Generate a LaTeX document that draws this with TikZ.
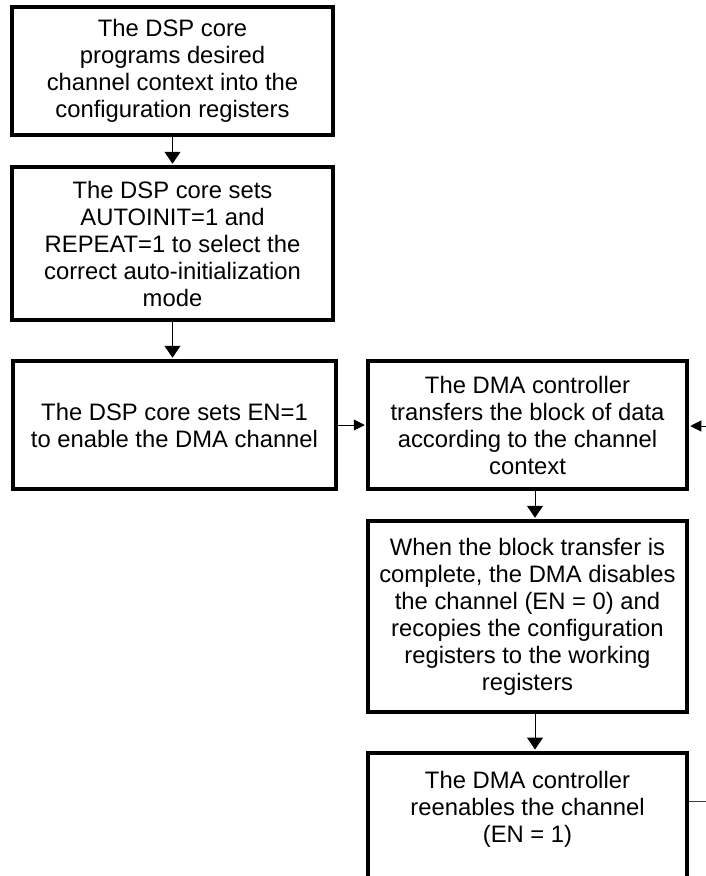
\documentclass[tikz,border=0pt]{standalone}
\usepackage{fontspec}
\setmainfont{Liberation Sans}
\usetikzlibrary{arrows.meta}
\tikzset{
  box/.style={draw=black, line width=3.5pt, align=center, inner sep=0pt,
    font=\fontsize{23.8pt}{27pt}\selectfont},
  txt/.style={align=center, inner sep=0pt, font=\fontsize{23.8pt}{27pt}\selectfont},
  varrow/.style={draw=black, line width=1pt, -{Triangle[length=12pt,width=16pt]}, shorten >=1.5pt},
  harrow/.style={draw=black, line width=1pt, -{Triangle[length=11pt,width=11pt]}, shorten >=1.5pt},
  plain/.style={draw=black!75, line width=1pt}
}
\begin{document}
\begin{tikzpicture}[x=1pt,y=-1pt]
\useasboundingbox (0,0) rectangle (706,876);
\clip (0,0) rectangle (706,876);
\fill[white] (0,0) rectangle (706,876);

\node[box, minimum width=321pt, minimum height=128pt] (b1) at (172.5,71)
  {The DSP core\\programs desired\\channel context into the\\configuration registers};
\node[box, minimum width=321pt, minimum height=153pt] (b2) at (172.5,243.5)
  {The DSP core sets\\AUTOINIT=1 and\\REPEAT=1 to select the\\correct auto-initialization\\mode};
\node[box, minimum width=323pt, minimum height=128pt] (b3) at (174.5,425)
  {The DSP core sets EN=1\\to enable the DMA channel};
\node[box, minimum width=319pt, minimum height=128pt] (b4) at (527.5,425)
  {The DMA controller\\transfers the block of data\\according to the channel\\context};
\node[box, minimum width=319pt, minimum height=191pt] (b5) at (527.5,616.5)
  {When the block transfer is\\complete, the DMA disables\\the channel (EN = 0) and\\recopies the configuration\\registers to the working\\registers};
\node[box, anchor=north, minimum width=319pt, minimum height=200pt] (b6) at (527.5,751) {};
\node[txt, anchor=north] (b6t) at (527.5,771)
  {The DMA controller\\reenables the channel\\(EN = 1)};

\coordinate (r1) at (706,426);
\coordinate (r2) at (706,801);

\draw[varrow] (b1.south) -- (b2.north);
\draw[varrow] (b2.south) -- (b2.south |- b3.north);
\draw[harrow] (b3.east) -- (b4.west);
\draw[varrow] ([xshift=7.5pt]b4.south) -- ([xshift=7.5pt]b5.north);
\draw[varrow] ([xshift=7.5pt]b5.south) -- ([xshift=7.5pt]b6.north);
\draw[harrow] (r1) -- (b4.east |- r1);
\draw[plain] (b6.east |- r2) -- (r2);
\end{tikzpicture}
\end{document}
